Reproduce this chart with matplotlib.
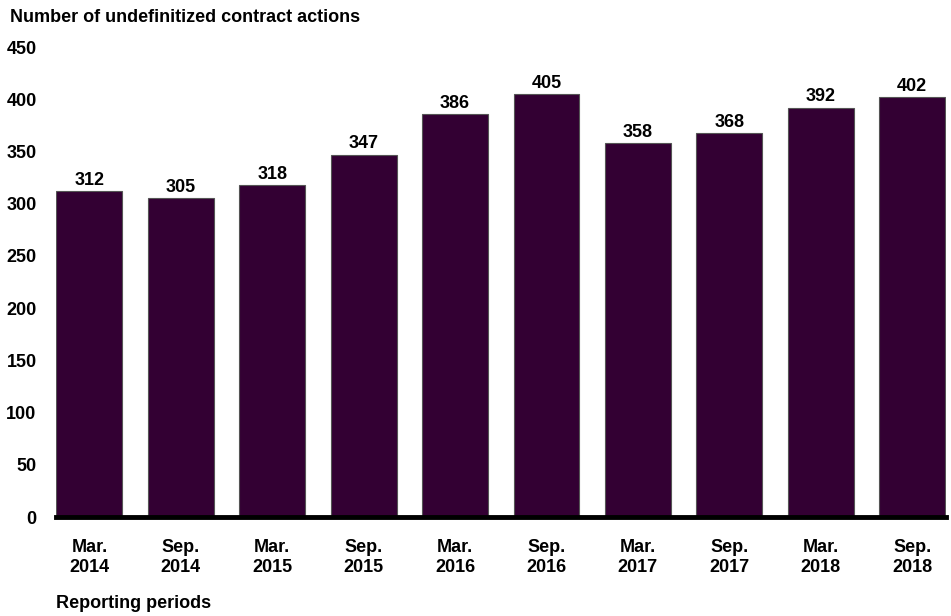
import matplotlib
matplotlib.use("Agg")
import matplotlib.pyplot as plt

periods = ["Mar.\n2014", "Sep.\n2014", "Mar.\n2015", "Sep.\n2015", "Mar.\n2016",
           "Sep.\n2016", "Mar.\n2017", "Sep.\n2017", "Mar.\n2018", "Sep.\n2018"]
counts = [312, 305, 318, 347, 386, 405, 358, 368, 392, 402]
yticks = [0, 50, 100, 150, 200, 250, 300, 350, 400, 450]

plt.rcParams['font.family'] = ['Liberation Sans', 'DejaVu Sans']
plt.rcParams['font.weight'] = 'bold'
FS = 13

fig = plt.figure(figsize=(9.51, 6.16), dpi=100)
ax = fig.add_axes([0.0589, 0.1607, 0.9358, 0.763])

x = list(range(len(counts)))
bars = ax.bar(x, counts, width=0.72, color="#330033", edgecolor="#555555", linewidth=0.8, zorder=2)
for xi, v in zip(x, counts):
    ax.text(xi, v + 2, str(v), ha="center", va="bottom", fontsize=FS, fontweight="bold")

ax.set_xlim(-0.365, len(counts) - 1 + 0.37)
ax.set_ylim(0, 450)
ax.set_yticks(yticks)
ax.set_yticklabels([str(t) for t in yticks], fontsize=FS, fontweight="bold")
ax.set_xticks(x)
ax.set_xticklabels(periods, fontsize=FS, fontweight="bold", linespacing=1.25)
ax.tick_params(axis="y", length=0, pad=14)
ax.tick_params(axis="x", length=0, pad=16)
for s in ["top", "right", "left"]:
    ax.spines[s].set_visible(False)
ax.spines["bottom"].set_linewidth(3.5)
ax.spines["bottom"].set_color("black")
ax.spines["bottom"].set_zorder(3)

fig.text(10/951, 1 - 17/616, "Number of undefinitized contract actions", ha="left", va="center",
         fontsize=FS, fontweight="bold")
fig.text(56/951, 1 - 603/616, "Reporting periods", ha="left", va="center",
         fontsize=FS, fontweight="bold")

fig.savefig("out.png", dpi=100)
